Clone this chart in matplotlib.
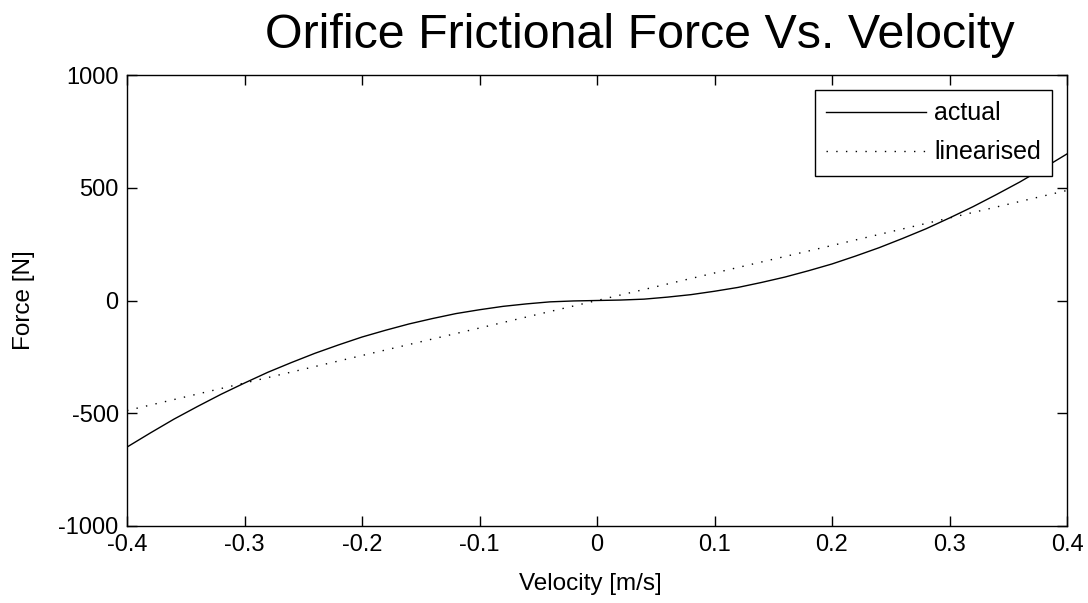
import matplotlib
matplotlib.use("Agg")
import matplotlib.pyplot as plt

plt.rcParams['font.family'] = ['Liberation Sans', 'DejaVu Sans']

# Orifice friction: measured force curve and its linearisation
velocity = [-0.40, -0.38, -0.36, -0.34, -0.32, -0.30, -0.28, -0.26, -0.24, -0.22,
            -0.20, -0.18, -0.16, -0.14, -0.12, -0.10, -0.08, -0.06, -0.04, -0.02,
            0.00, 0.02, 0.04, 0.06, 0.08, 0.10, 0.12, 0.14, 0.16, 0.18,
            0.20, 0.22, 0.24, 0.26, 0.28, 0.30, 0.32, 0.34, 0.36, 0.38, 0.40]
force_actual = [-650, -587, -526, -470, -416, -366, -318, -275, -234, -197,
                -162, -132, -104, -80, -58, -41, -26, -15, -6, -2,
                0, 2, 6, 15, 26, 41, 58, 80, 104, 132,
                162, 197, 234, 275, 318, 366, 416, 470, 526, 587, 650]

lin_velocity = [-0.40, 0.40]
force_linearised = [-488, 488]

xticks = [-0.4, -0.3, -0.2, -0.1, 0, 0.1, 0.2, 0.3, 0.4]
xticklabels = ['-0.4', '-0.3', '-0.2', '-0.1', '0', '0.1', '0.2', '0.3', '0.4']
yticks = [-1000, -500, 0, 500, 1000]
yticklabels = ['-1000', '-500', '0', '500', '1000']

W, H = 1088, 603
fig = plt.figure(figsize=(W / 100, H / 100), dpi=100)
ax = fig.add_axes([127 / W, 1 - 526 / H, (1067 - 127) / W, (526 - 75) / H])

ax.plot(velocity, force_actual, color='black', lw=1.0, label='actual')
ax.plot(lin_velocity, force_linearised, color='black', lw=1.0,
        linestyle=(0, (1, 6)), label='linearised')

ax.set_xlim(-0.4, 0.4)
ax.set_ylim(-1000, 1000)
ax.set_xticks(xticks)
ax.set_xticklabels(xticklabels)
ax.set_yticks(yticks)
ax.set_yticklabels(yticklabels)

ax.tick_params(direction='in', length=7, width=1.0, labelsize=17,
               top=True, right=True, pad=6, colors='black')
for s in ax.spines.values():
    s.set_linewidth(1.0)
    s.set_color('black')

fig.text(590 / W, 1 - 590 / H, 'Velocity [m/s]', ha='center', va='baseline', fontsize=17.5)
fig.text(24 / W, 1 - 300 / H, 'Force [N]', ha='center', va='center',
         rotation=90, fontsize=17.5)
fig.text(640 / W, 1 - 48 / H, 'Orifice Frictional Force Vs. Velocity',
         ha='center', va='baseline', fontsize=34.8)

leg = ax.legend(loc='upper right', bbox_to_anchor=(1052 / W, 1 - 90 / H),
                bbox_transform=fig.transFigure, borderaxespad=0, fontsize=18,
                handlelength=4.0, handletextpad=0.32, labelspacing=0.6,
                borderpad=0.45, fancybox=False, framealpha=1.0)
leg.get_frame().set_edgecolor('black')
leg.get_frame().set_linewidth(1.0)

fig.savefig('out.png', dpi=100)
